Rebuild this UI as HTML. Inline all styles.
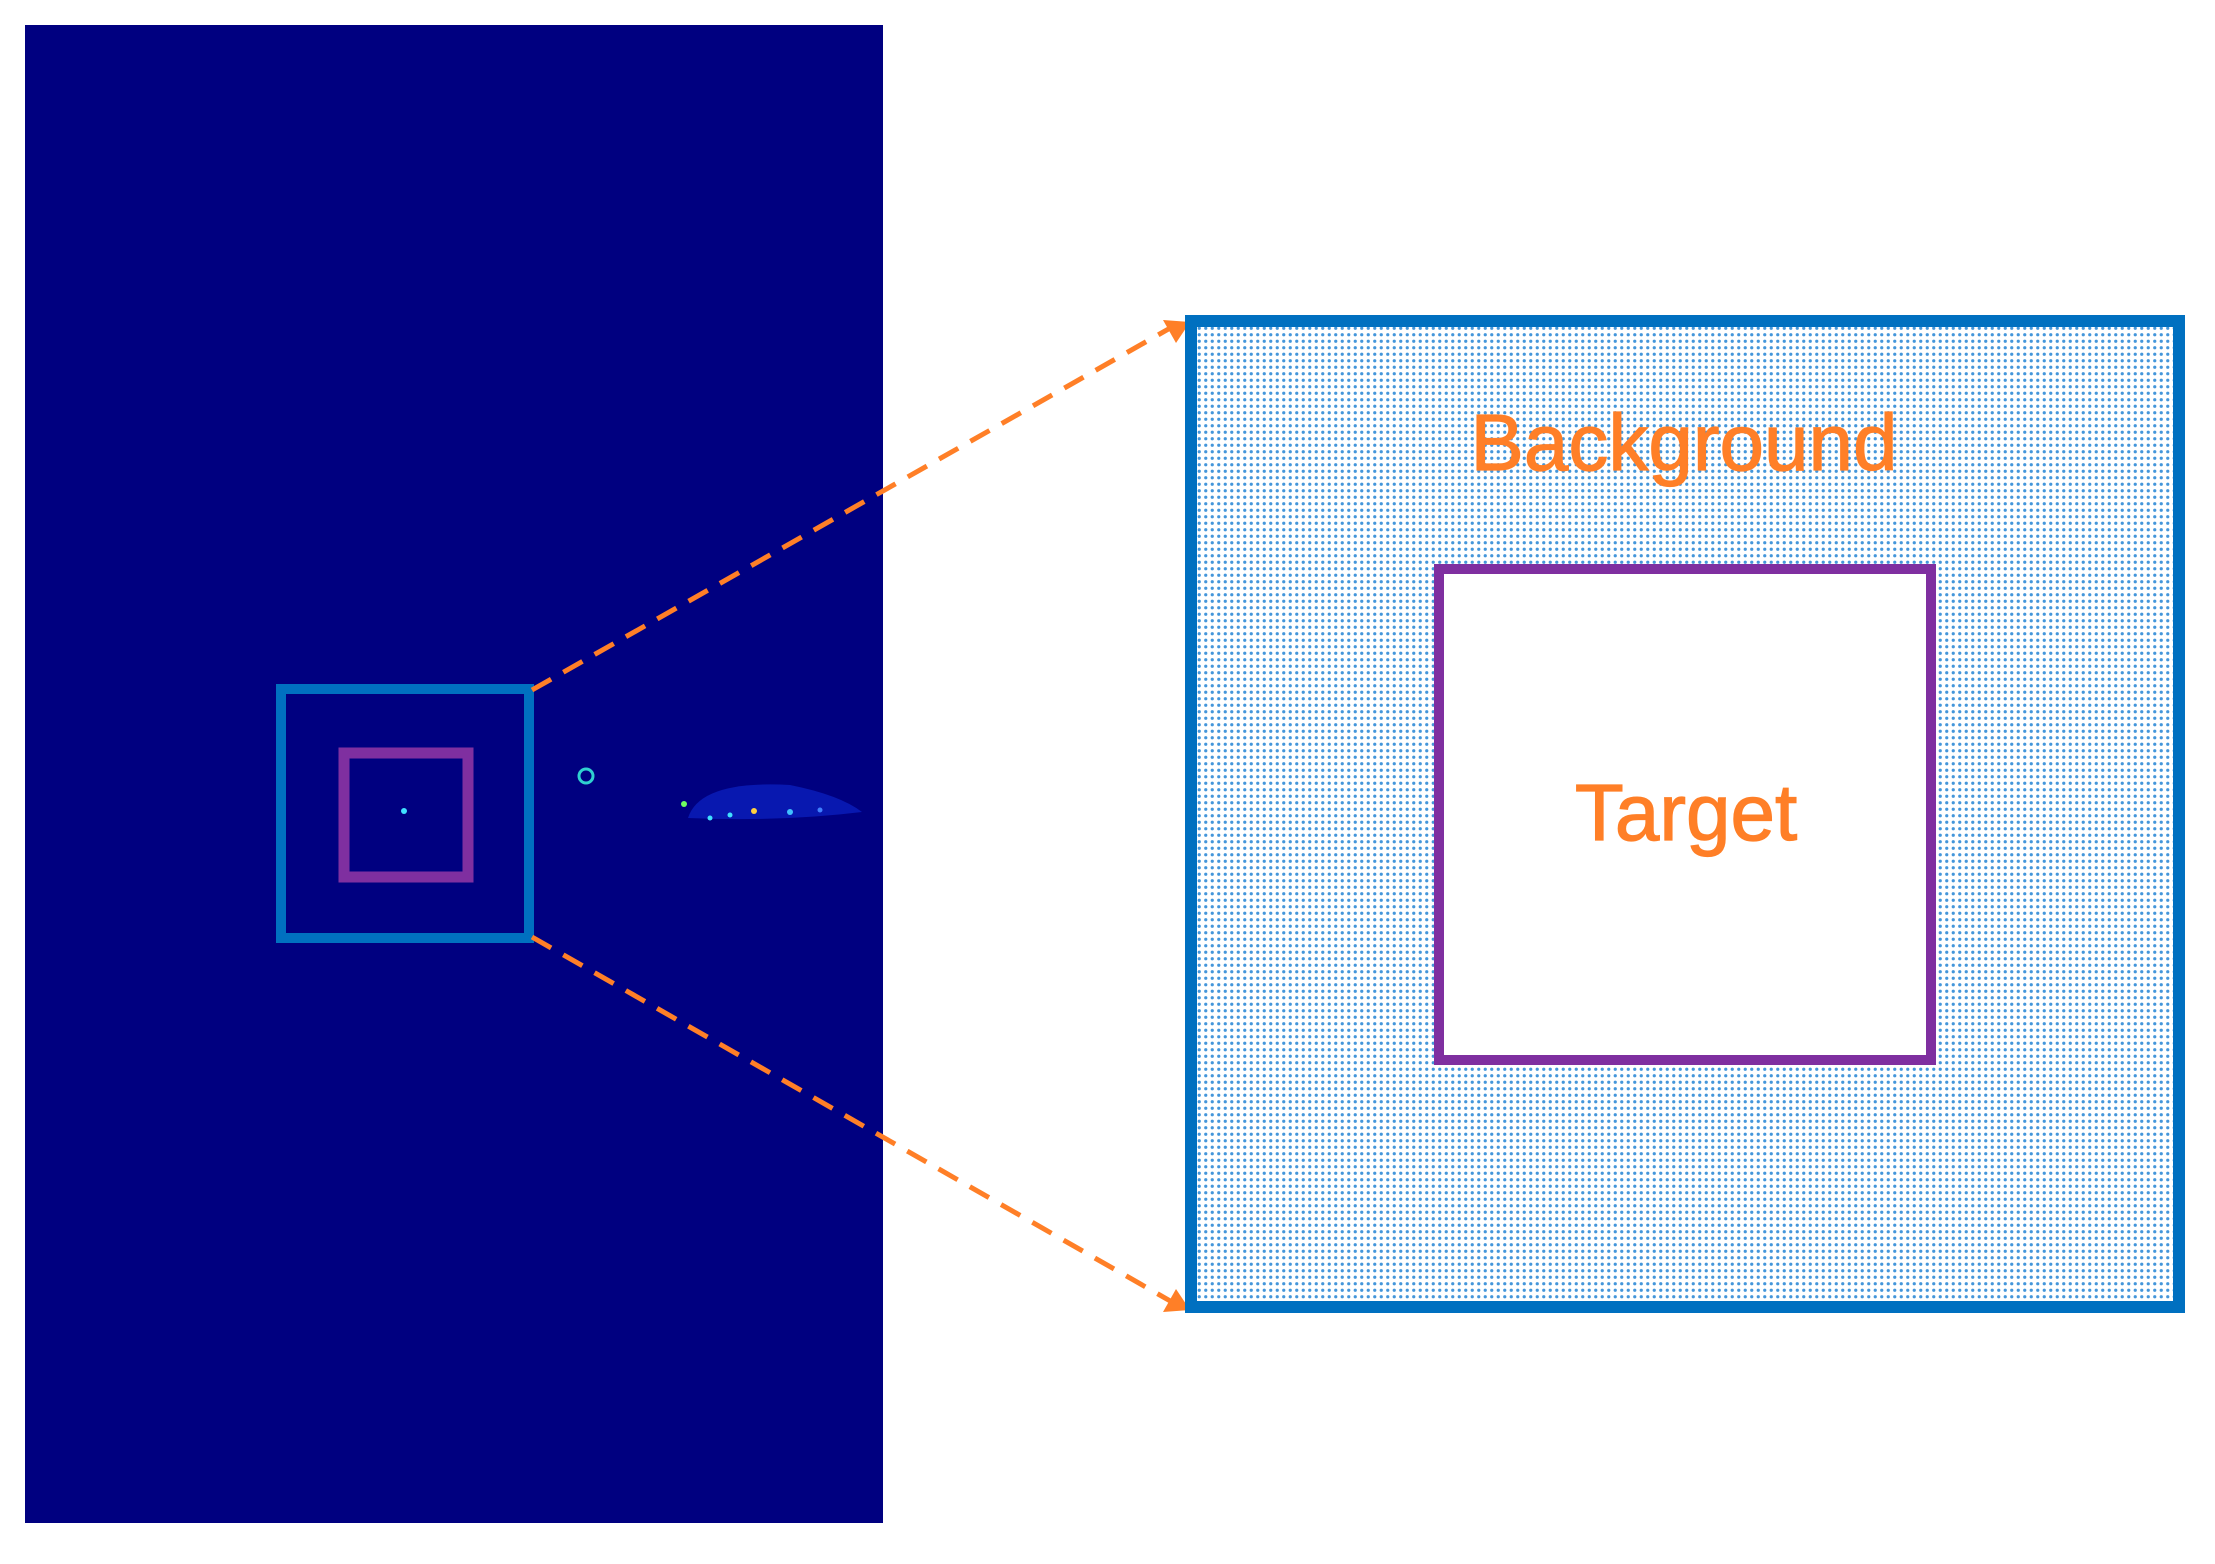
<!DOCTYPE html>
<html><head><meta charset="utf-8"><style>
html,body{margin:0;padding:0;background:#fff;}
svg{display:block;}
</style></head><body>
<svg width="2215" height="1564" viewBox="0 0 2215 1564" xmlns="http://www.w3.org/2000/svg">
<defs>
<pattern id="dots" width="6.5" height="6.5" patternUnits="userSpaceOnUse">
<circle cx="3.25" cy="3.25" r="1.6" fill="#2f8ad6"/>
</pattern>
</defs>
<rect x="0" y="0" width="2215" height="1564" fill="#fff"/>
<!-- left image -->
<rect x="25" y="25" width="858" height="1498" fill="#000080"/>
<circle cx="586" cy="776" r="7" fill="none" stroke="#30d0d0" stroke-width="3"/>
<circle cx="404" cy="811" r="3" fill="#40e0ff"/>
<g>
<path d="M688 818 Q700 780 790 785 Q840 795 862 812 Q780 822 688 818 Z" fill="#0818b0"/>
<circle cx="684" cy="804" r="3" fill="#70ff60"/>
<circle cx="754" cy="811" r="3" fill="#ffd040"/>
<circle cx="730" cy="815" r="2.5" fill="#40e0ff"/>
<circle cx="710" cy="818" r="2.5" fill="#40e0ff"/>
<circle cx="790" cy="812" r="3" fill="#40c0ff"/>
<circle cx="820" cy="810" r="2.5" fill="#4080ff"/>
</g>
<rect x="281" y="689" width="248" height="249" fill="none" stroke="#0070c0" stroke-width="10"/>
<rect x="344" y="753" width="124" height="124" fill="none" stroke="#7f2fa0" stroke-width="11"/>
<!-- dashed connectors -->
<line x1="532" y1="690" x2="1172" y2="327" stroke="#ff7f27" stroke-width="5" stroke-dasharray="22,14"/>
<line x1="532" y1="937" x2="1172" y2="1302" stroke="#ff7f27" stroke-width="5" stroke-dasharray="22,14"/>
<polygon points="1190,322 1163,320 1176,343" fill="#ff7f27"/>
<polygon points="1190,1310 1163,1312 1176,1289" fill="#ff7f27"/>
<!-- right box -->
<rect x="1191" y="321" width="988" height="986" fill="url(#dots)" opacity="0.9"/>
<rect x="1191" y="321" width="988" height="986" fill="none" stroke="#0070c0" stroke-width="12"/>
<rect x="1439" y="569" width="492" height="491" fill="#fff" stroke="#7f2fa0" stroke-width="10"/>
<text x="1684" y="470" text-anchor="middle" font-family="Liberation Sans, sans-serif" font-size="80" fill="#ff7f27" stroke="#ff7f27" stroke-width="1.2">Background</text>
<text x="1686" y="840" text-anchor="middle" font-family="Liberation Sans, sans-serif" font-size="80" fill="#ff7f27" stroke="#ff7f27" stroke-width="1.2">Target</text>
</svg>
</body></html>
